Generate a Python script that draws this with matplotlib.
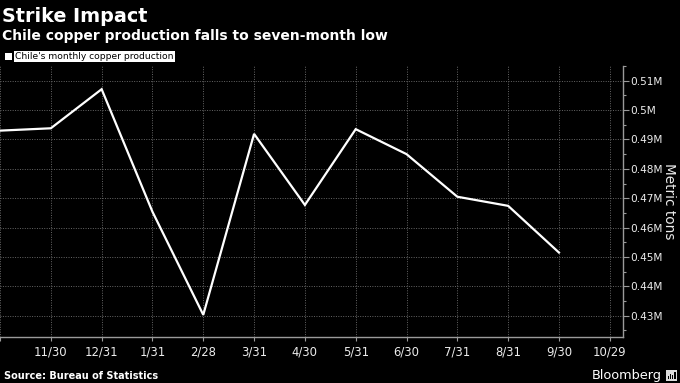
import matplotlib
matplotlib.use("Agg")
import matplotlib.pyplot as plt
from matplotlib.ticker import FixedLocator, MultipleLocator, FuncFormatter
from matplotlib.patches import Rectangle

# ---- data ----
dates = ["10/31", "11/30", "12/31", "1/31", "2/28", "3/31", "4/30",
         "5/31", "6/30", "7/31", "8/31", "9/30", "10/29"]
production = [493000, 493800, 507100, 465400, 430300, 491900, 467700,
              493500, 485000, 470500, 467400, 451500]
y_ticks = [430000, 440000, 450000, 460000, 470000, 480000, 490000, 500000, 510000]

title = "Strike Impact"
subtitle = "Chile copper production falls to seven-month low"
legend_label = "Chile's monthly copper production"
y_label = "Metric tons"
source = "Source: Bureau of Statistics"

W, H = 680, 383
fig = plt.figure(figsize=(W / 100, H / 100), dpi=100, facecolor="black")
ax = fig.add_axes([0, 1 - 337 / H, 623 / W, (337 - 66) / H])
ax.set_facecolor("black")

x = list(range(len(production)))
ax.plot(x, production, color="white", lw=1.6, solid_joinstyle="miter", zorder=3)

ax.set_xlim(0, 12.26)
ax.set_ylim(422760, 515000)

grid_col = "#666666"
ax.set_xticks(range(len(dates)))
ax.set_xticklabels([""] + dates[1:])
ax.yaxis.set_major_locator(FixedLocator(y_ticks))
ax.yaxis.set_minor_locator(MultipleLocator(5000))
ax.yaxis.set_major_formatter(FuncFormatter(lambda v, p: f"{v / 1e6:g}M"))
ax.yaxis.tick_right()
ax.yaxis.set_label_position("right")
ax.grid(True, which="major", color=grid_col, lw=0.7, ls=(0, (1, 1.5)))

for s in ["top", "left"]:
    ax.spines[s].set_visible(False)
for s in ["right", "bottom"]:
    ax.spines[s].set_color("#9a9a9a")
    ax.spines[s].set_linewidth(1.0)

ax.tick_params(axis="y", which="major", direction="out", length=4, width=0.8,
               color="#9a9a9a", labelcolor="#ececec", labelsize=7.6, pad=1)
ax.tick_params(axis="y", which="minor", direction="out", length=2, width=0.8,
               color="#9a9a9a")
ax.tick_params(axis="x", which="major", direction="out", length=3, width=0.8,
               color="#9a9a9a", labelcolor="#ececec", labelsize=8.4, pad=3)

ax.set_ylabel(y_label, rotation=270, color="#ececec", fontsize=9.8, labelpad=10)

# ---- titles ----
fig.text(2 / W, 1 - 17 / H, title, color="white", fontsize=13.8,
         fontweight="bold", va="center", ha="left")
fig.text(2 / W, 1 - 36 / H, subtitle, color="white", fontsize=10,
         fontweight="bold", va="center", ha="left")

# ---- legend ----
fig.patches.append(Rectangle((5 / W, 1 - 60 / H), 7 / W, 7 / H,
                             transform=fig.transFigure, facecolor="white",
                             edgecolor="none"))
fig.text(15 / W, 1 - 56.5 / H, legend_label, color="black", fontsize=6.6,
         va="center", ha="left",
         bbox=dict(boxstyle="square,pad=0.12", facecolor="white", edgecolor="none"))

# ---- footer ----
fig.text(4 / W, 1 - 376 / H, source, color="white", fontsize=7,
         fontweight="bold", va="center", ha="left")
fig.text(662 / W, 1 - 375 / H, "Bloomberg", color="white", fontsize=9.3,
         va="center", ha="right")
fig.patches.append(Rectangle((666 / W, 1 - 381 / H), 11 / W, 11 / H,
                             transform=fig.transFigure, facecolor="#dddddd",
                             edgecolor="none"))
for i, h in enumerate([3, 6, 4, 8]):
    fig.patches.append(Rectangle(((667.5 + i * 2.3) / W, 1 - 379 / H), 1.3 / W, h * 0.9 / H,
                                 transform=fig.transFigure, facecolor="black",
                                 edgecolor="none"))

fig.savefig("out.png", dpi=100, facecolor="black")
